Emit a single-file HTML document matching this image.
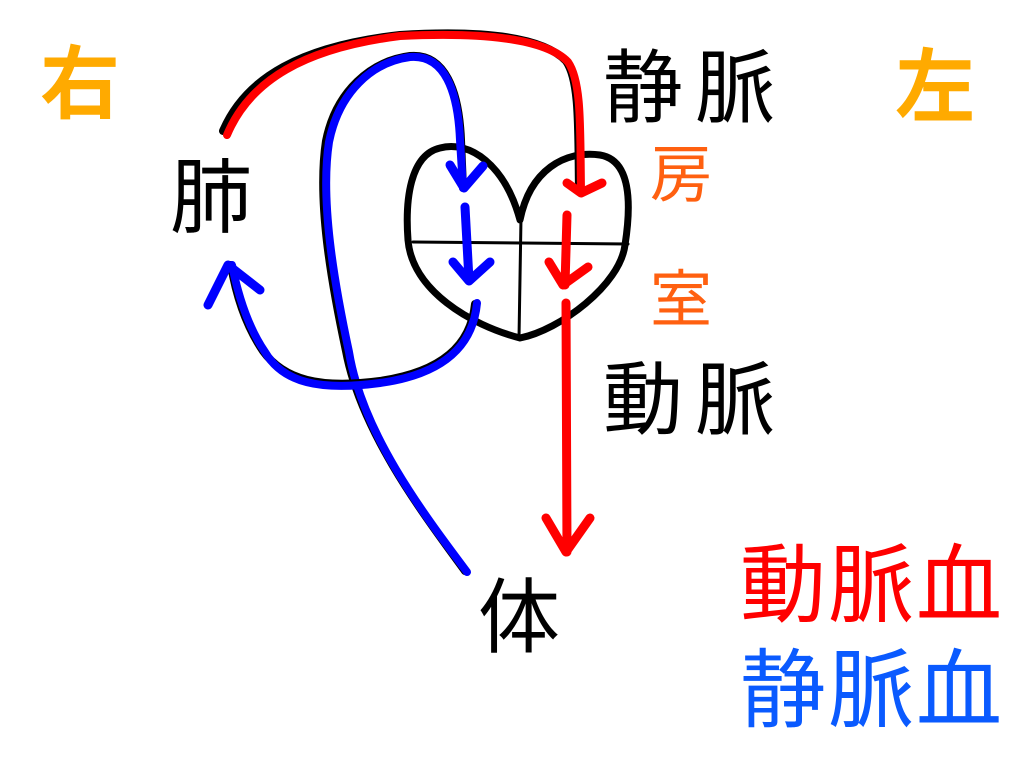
<!DOCTYPE html>
<html><head><meta charset="utf-8"><style>html,body{margin:0;padding:0;background:#fff}svg{display:block}text{font-family:"Liberation Sans","Noto Sans CJK JP",sans-serif}</style></head>
<body>
<svg width="1024" height="768" viewBox="0 0 1024 768" xmlns="http://www.w3.org/2000/svg">
<rect width="1024" height="768" fill="#fff"/>
<g fill="none" stroke-linecap="round" stroke-linejoin="round">
<path d="M520,220 C505,165 470,140 440,148 C410,155 405,200 408,240 C412,290 470,325 520,338 C560,330 620,285 625,245 C632,200 630,160 600,155 C565,150 530,170 520,220 Z" stroke="#000" stroke-width="7"/>
<path d="M413,242 L628,244" stroke="#000" stroke-width="3"/>
<path d="M521,218 L519,338" stroke="#000" stroke-width="3"/>
<path d="M223,131 C246,77 302,46 400,35 C480,30 542,36 566,61 C580,81 578,130 579,190" stroke="#000" stroke-width="8"/>
<path d="M227,135 C250,80 305,48 400,36 C480,32 545,38 568,62 C582,82 580,130 581,190" stroke="#f00" stroke-width="8"/>
<path d="M567,183 L581,193 L602,183" stroke="#f00" stroke-width="9"/>
<path d="M567,215 L565,285 M549,262 L563,285 L588,267" stroke="#f00" stroke-width="9"/>
<path d="M566,303 L567,552 M546,518 L566,552 L590,518" stroke="#f00" stroke-width="9"/>
<path d="M465,571 C421,511 361,431 346,351 C331,281 317,200 326,141 C336,91 371,61 410,56 C445,53 459,91 461,140 L463,188" stroke="#000" stroke-width="8"/>
<path d="M467,572 C422,512 362,432 349,352 C334,282 320,200 329,142 C339,92 372,62 410,57 C445,54 458,92 460,140 L463,188" stroke="#00f" stroke-width="8"/>
<path d="M450,165 L464,188 L483,166" stroke="#00f" stroke-width="9"/>
<path d="M465,207 L469,280 M453,262 L469,281 L490,262" stroke="#00f" stroke-width="9"/>
<path d="M475,304 C471,345 442,372 380,381 C320,389 284,380 263,351 C246,326 236,295 231,265" stroke="#000" stroke-width="8"/>
<path d="M477,303 C473,345 445,374 380,383 C320,391 283,383 265,352 C248,327 238,295 232,265" stroke="#00f" stroke-width="8"/>
<path d="M208,305 L228,265 L260,290" stroke="#00f" stroke-width="9"/>
</g>
<text x="40" y="112" font-size="80" font-weight="bold" fill="#FFAA00">右</text>
<text x="895" y="115" font-size="80" font-weight="bold" fill="#FFAA00">左</text>
<text x="170" y="226" font-size="82" fill="#000">肺</text>
<text x="478" y="646" font-size="82" fill="#000">体</text>
<text x="603" y="116" font-size="80" fill="#000" textLength="172">静脈</text>
<text x="603" y="428" font-size="80" fill="#000" textLength="172">動脈</text>
<text x="650" y="196" font-size="62" fill="#FF6010">房</text>
<text x="650" y="321" font-size="62" fill="#FF6010">室</text>
<text x="740" y="615" font-size="86" fill="#f00" textLength="262">動脈血</text>
<text x="740" y="720" font-size="86" fill="#0A5AFF" textLength="262">静脈血</text>
</svg>
</body></html>
